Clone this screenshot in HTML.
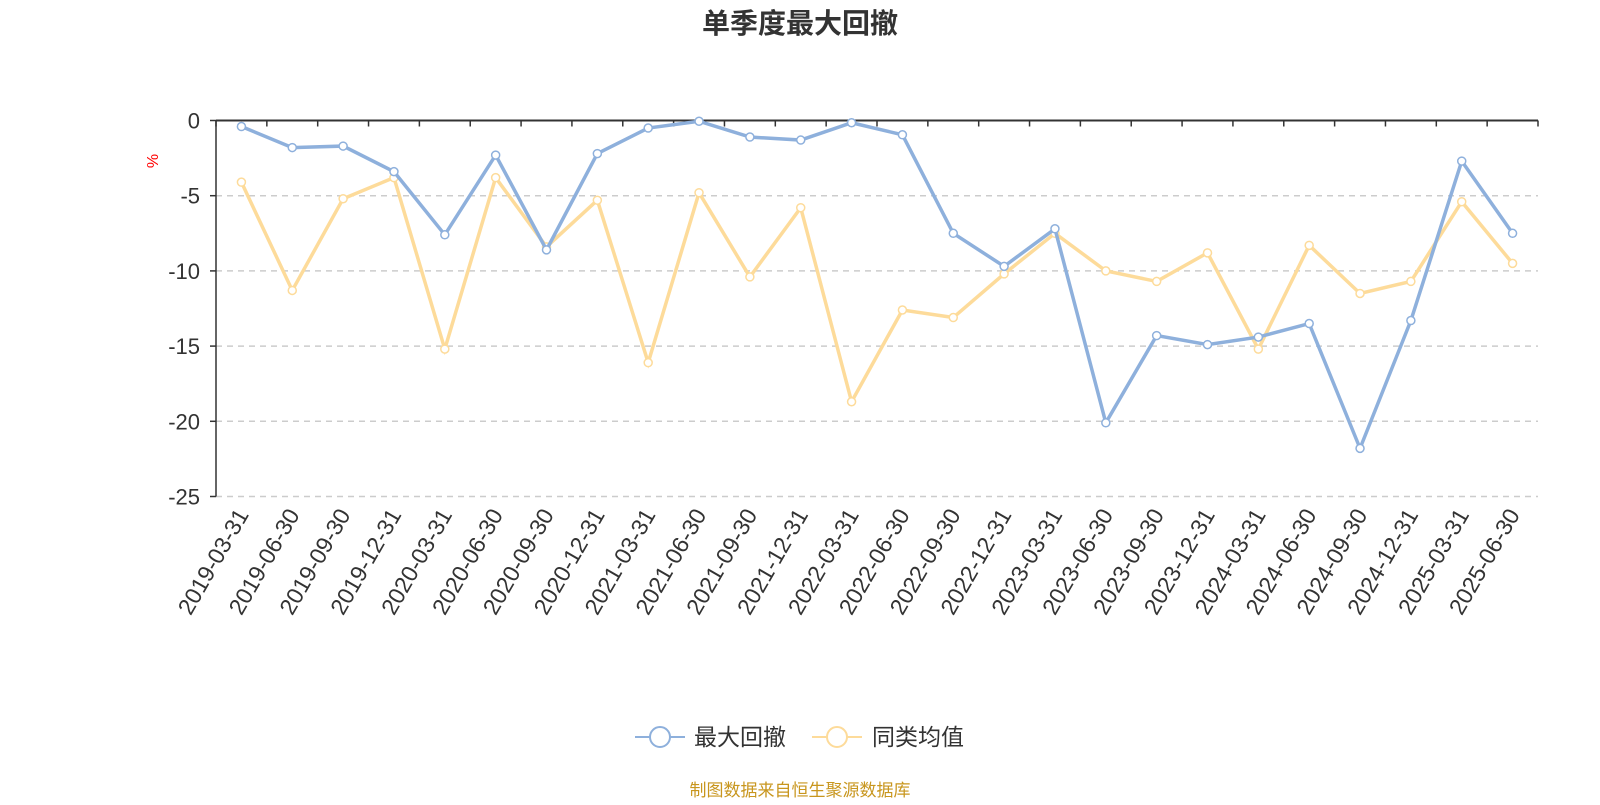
<!DOCTYPE html>
<html><head><meta charset="utf-8"><style>
body{margin:0;background:#fff;font-family:"Liberation Sans","Noto Sans CJK SC",sans-serif}
svg text{font-family:"Liberation Sans","Noto Sans CJK SC",sans-serif}
</style></head><body>
<svg id="c" width="1600" height="800" xmlns="http://www.w3.org/2000/svg">
<text x="800" y="33" text-anchor="middle" font-size="28" font-weight="bold" fill="#333">单季度最大回撤</text>
<text transform="translate(158,161) rotate(-90)" text-anchor="middle" font-size="16" fill="red">%</text>
<g id="grid"></g><g id="axes"></g><g id="series"></g>
<g>
<g>
<line x1="635" y1="737" x2="685" y2="737" stroke="#8eb0dc" stroke-width="2"/><circle cx="660" cy="737" r="10" fill="#fff" stroke="#8eb0dc" stroke-width="2"/>
<text x="694" y="745" font-size="23" fill="#333">最大回撤</text></g>
<g>
<line x1="812" y1="737" x2="862" y2="737" stroke="#fddb9a" stroke-width="2"/><circle cx="837" cy="737" r="10" fill="#fff" stroke="#fddb9a" stroke-width="2"/>
<text x="872" y="745" font-size="23" fill="#333">同类均值</text></g>
</g>
<text x="800" y="796" text-anchor="middle" font-size="17" fill="#c8961e">制图数据来自恒生聚源数据库</text>
</svg>
<script>
const categories=["2019-03-31","2019-06-30","2019-09-30","2019-12-31","2020-03-31","2020-06-30","2020-09-30","2020-12-31","2021-03-31","2021-06-30","2021-09-30","2021-12-31","2022-03-31","2022-06-30","2022-09-30","2022-12-31","2023-03-31","2023-06-30","2023-09-30","2023-12-31","2024-03-31","2024-06-30","2024-09-30","2024-12-31","2025-03-31","2025-06-30"];
const maxDrawdown=[-0.4,-1.8,-1.7,-3.4,-7.6,-2.3,-8.6,-2.2,-0.5,-0.05,-1.1,-1.3,-0.15,-0.95,-7.5,-9.7,-7.2,-20.1,-14.3,-14.9,-14.4,-13.5,-21.8,-13.3,-2.7,-7.5];
const peerAverage=[-4.1,-11.3,-5.2,-3.8,-15.2,-3.8,-8.4,-5.3,-16.1,-4.8,-10.4,-5.8,-18.7,-12.6,-13.1,-10.2,-7.5,-10.0,-10.7,-8.8,-15.2,-8.3,-11.5,-10.7,-5.4,-9.5];
const yTicks=[0,-5,-10,-15,-20,-25];
const NS="http://www.w3.org/2000/svg";
const L=216,R=1538,T=120.5,B=496.5,band=(R-L)/categories.length;
const xs=i=>L+band*(i+0.5);
const ys=v=>T+(0-v)/25*(B-T);
function mk(t,a,p){const e=document.createElementNS(NS,t);for(const k in a)e.setAttribute(k,a[k]);p.appendChild(e);return e;}
const grid=document.getElementById('grid'),axes=document.getElementById('axes'),ser=document.getElementById('series');
yTicks.forEach(v=>{
 if(v!==0){const g=mk('line',{x1:L,x2:R,y1:ys(v),y2:ys(v),stroke:'#ccc','stroke-width':1.5,'stroke-dasharray':'6,5'},grid);
 
 }
 const tk=mk('line',{x1:L-6,x2:L,y1:ys(v),y2:ys(v),stroke:'#333','stroke-width':1.5},axes);
 
 
 const t=mk('text',{x:L-16,y:ys(v)+8,'text-anchor':'end','font-size':22,fill:'#333'},axes);t.textContent=v;
 
 
});
const ya=mk('line',{x1:L,x2:L,y1:T,y2:B,stroke:'#333','stroke-width':1.5},axes);


const xa=mk('line',{x1:L,x2:R,y1:T,y2:T,stroke:'#333','stroke-width':2},axes);


for(let i=0;i<=categories.length;i++){const tk=mk('line',{x1:L+band*i,x2:L+band*i,y1:T,y2:T+6,stroke:'#333','stroke-width':1.5},axes);
 
 }
categories.forEach((c,i)=>{const t=mk('text',{transform:`translate(${xs(i)+8},${B+18}) rotate(-60)`,'text-anchor':'end','font-size':23,fill:'#333'},axes);t.textContent=c;
 
 });
function draw(data,color,name){
 const g=mk('g',{},ser);
 
 
 const l=mk('polyline',{points:data.map((v,i)=>xs(i)+','+ys(v)).join(' '),fill:'none',stroke:color,'stroke-width':3.5},g);
 
 
 data.forEach((v,i)=>{const p=mk('circle',{cx:xs(i),cy:ys(v),r:4,fill:'#fff',stroke:color,'stroke-width':1.5},g);
  
  });
}
draw(peerAverage,'#fddb9a','peer-average-series');
draw(maxDrawdown,'#8eb0dc','max-drawdown-series');
</script>
</body></html>
